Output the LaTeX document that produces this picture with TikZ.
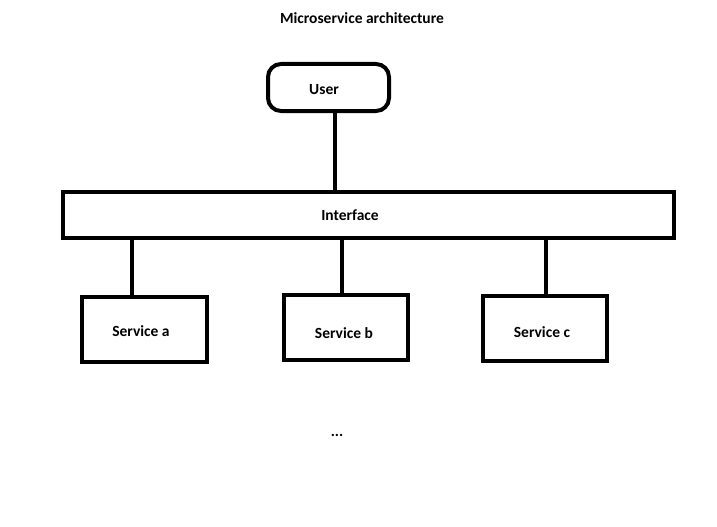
\documentclass[tikz,border=0pt]{standalone}
\usepackage{fontspec}
\setmainfont{Carlito}
\usetikzlibrary{positioning}

\tikzset{
    txt/.style = {font=\bfseries\fontsize{15.5}{18}\selectfont},
    box/.style = {draw, line width=4pt, fill=white, txt},
    link/.style = {line width=4pt}
}

\begin{document}
\begin{tikzpicture}[x=1pt, y=-1pt]
            \useasboundingbox[fill=white] (0,0) rectangle (717,527);
            \node[txt] (title) at (362,18) {Microservice architecture};
            \node[box, rounded corners=13pt, minimum width=121pt, minimum height=47pt,
                  label={[xshift=-4.5pt, yshift=-2.5pt, txt]center:User}] (user) at (328.5,87.5) {};
            \node[box, minimum width=611pt, minimum height=46pt,
                  label={[xshift=-18.5pt, txt]center:Interface}] (iface) at (368.5,215) {};
            \node[box, minimum width=125pt, minimum height=65pt,
                  label={[xshift=-3.5pt, yshift=-1.5pt, txt]center:Service a}] (sa) at (144.5,329.5) {};
            \node[box, minimum width=124pt, minimum height=65pt,
                  label={[xshift=-2pt, yshift=-5.5pt, txt]center:Service b}] (sb) at (346,327.5) {};
            \node[box, minimum width=124pt, minimum height=65pt,
                  label={[xshift=-3pt, yshift=-3.5pt, txt]center:Service c}] (sc) at (545,328.5) {};
            \node[txt] (more) at (337,435) {...};
            % connectors
            \draw[link] ([xshift=6.5pt]user.south) -- ([xshift=6.5pt]user.south |- iface.north);
            \draw[link] ([xshift=-12.5pt]sa.north |- iface.south) -- ([xshift=-12.5pt]sa.north);
            \draw[link] ([xshift=-4pt]sb.north |- iface.south) -- ([xshift=-4pt]sb.north);
            \draw[link] ([xshift=1pt, yshift=4pt]sc.north |- iface.south) -- ([xshift=1pt]sc.north);
        \end{tikzpicture}
\end{document}
